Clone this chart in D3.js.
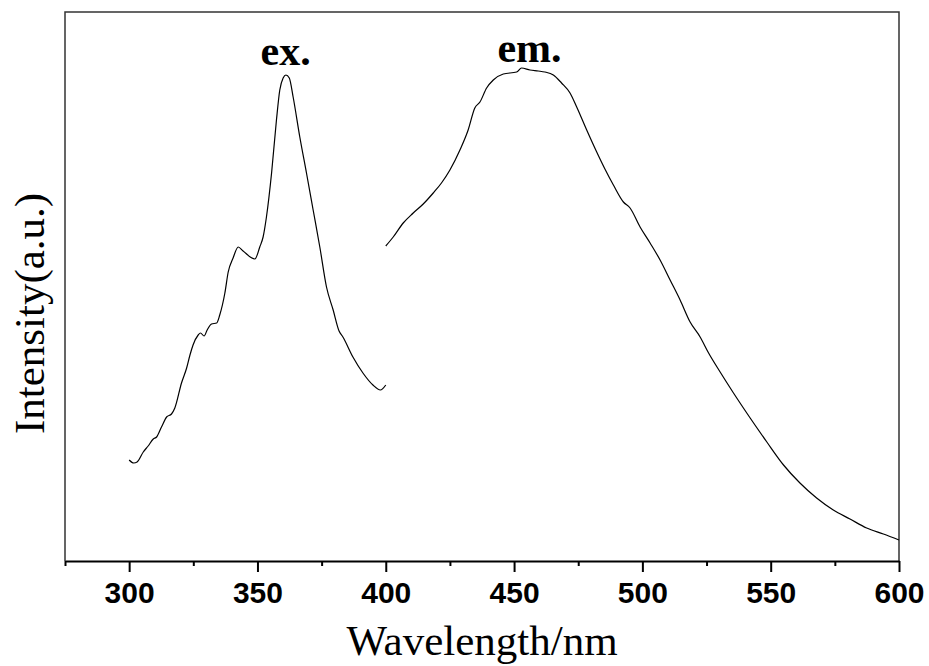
<!DOCTYPE html>
<html>
<head>
<meta charset="utf-8">
<script src="https://cdn.jsdelivr.net/npm/d3@7"></script>
<style>
  body { margin: 0; background: #fff; }
  .tick text { font-family: "Liberation Sans", Arial, sans-serif; font-weight: bold; font-size: 30px; }
</style>
</head>
<body>
<div class="chart"></div>
<script>
// excitation spectrum (nm, a.u.)
var exWave = [300.0, 301.8, 303.1, 305.5, 307.4, 309.4, 310.7, 312.6, 314.6, 316.5, 317.8, 320.4, 322.4, 323.7,
  324.9, 326.9, 327.8, 329.2, 330.4, 332.1, 334.1, 335.3, 337.3, 338.6, 340.5, 342.5, 344.4, 349.0, 350.9,
  352.2, 353.5, 355.5, 357.4, 358.7, 360.0, 361.1, 362.4, 363.9, 366.5, 369.1, 371.7, 374.3, 376.9, 379.5,
  381.8, 383.3, 387.2, 391.1, 395.0, 397.9, 400.0];
var exInt = [101, 98, 99, 109, 115, 122, 124, 134, 144, 147, 153, 178, 193, 206,
  216, 226, 228, 225, 231, 237, 238, 246, 268, 289, 303, 314, 310, 302, 314,
  324, 344, 388, 441, 471, 483, 486, 483, 464, 424, 388, 351, 314, 274, 251,
  230, 224, 204, 188, 176, 171, 176];

// emission spectrum (nm, a.u.)
var emWave = [400.0, 402.9, 406.8, 410.7, 414.6, 418.5, 421.7, 425.0, 428.9, 432.1, 434.7, 436.7, 439.3, 441.9,
  445.8, 451.0, 452.9, 456.2, 459.4, 462.0, 465.3, 468.5, 471.8, 474.4, 478.3, 482.2, 485.4, 488.7, 492.6,
  495.2, 499.1, 503.0, 506.9, 510.8, 514.7, 518.6, 522.5, 525.8, 530.3, 535.5, 542.0, 548.5, 555.0, 561.4,
  567.9, 574.4, 580.9, 587.4, 593.9, 600.0];
var emInt = [315, 324, 338, 348, 357, 368, 378, 391, 411, 431, 453, 459, 473, 481,
  487, 489, 493, 491, 490, 489, 486, 478, 468, 454, 431, 409, 392, 376, 359,
  353, 334, 318, 301, 281, 261, 239, 224, 208, 189, 168, 143, 119, 96, 78,
  63, 51, 42, 33, 27, 21];

var majorTicks = [300, 350, 400, 450, 500, 550, 600];
var minorTicks = [275, 325, 375, 425, 475, 525, 575];

var svgWidth = 929;
var svgHeight = 666;
var margin = { top: 12, right: 30, bottom: 105, left: 65 };
var width = svgWidth - margin.left - margin.right;
var height = svgHeight - margin.top - margin.bottom;

var svg = d3.select(".chart")
  .append("svg")
  .attr("width", svgWidth)
  .attr("height", svgHeight);

var chart = svg.append("g")
  .attr("transform", "translate(" + margin.left + "," + margin.top + ")");

var x = d3.scaleLinear().domain([275, 600]).range([0, width]);
var y = d3.scaleLinear().domain([0, 549]).range([height, 0]);

// frame (top, left, right)
chart.append("path")
  .attr("d", "M0," + height + "V0H" + width + "V" + height)
  .attr("fill", "none")
  .attr("stroke", "#333")
  .attr("stroke-width", 1.5);

// minor ticks
chart.append("g")
  .attr("transform", "translate(0," + height + ")")
  .call(d3.axisBottom(x).tickValues(minorTicks).tickSize(5).tickFormat("").tickSizeOuter(0))
  .call(function(g) { g.select(".domain").remove(); })
  .selectAll("line").attr("stroke-width", 2);

// major ticks + labels
var xAxis = chart.append("g")
  .attr("transform", "translate(0," + height + ")")
  .call(d3.axisBottom(x).tickValues(majorTicks).tickSize(11).tickPadding(10).tickSizeOuter(0));
xAxis.select(".domain").attr("stroke-width", 2);
xAxis.selectAll(".tick line").attr("stroke-width", 2);
xAxis.selectAll(".tick text").attr("fill", "#000");

var line = d3.line()
  .x(function(d) { return x(d[0]); })
  .y(function(d) { return y(d[1]); })
  .curve(d3.curveMonotoneX);

chart.append("path")
  .datum(d3.zip(exWave, exInt))
  .attr("d", line)
  .attr("fill", "none")
  .attr("stroke", "#000")
  .attr("stroke-width", 1.2);

chart.append("path")
  .datum(d3.zip(emWave, emInt))
  .attr("d", line)
  .attr("fill", "none")
  .attr("stroke", "#000")
  .attr("stroke-width", 1.2);

// peak labels
chart.append("text")
  .attr("x", x(361))
  .attr("y", 53)
  .attr("text-anchor", "middle")
  .style("font-family", "'Liberation Serif', 'Times New Roman', serif")
  .style("font-weight", "bold")
  .style("font-size", "42px")
  .text("ex.");

chart.append("text")
  .attr("x", x(456))
  .attr("y", 50)
  .attr("text-anchor", "middle")
  .style("font-family", "'Liberation Serif', 'Times New Roman', serif")
  .style("font-weight", "bold")
  .style("font-size", "42px")
  .text("em.");

// axis titles
svg.append("text")
  .attr("x", margin.left + width / 2)
  .attr("y", 655)
  .attr("text-anchor", "middle")
  .style("font-family", "'Liberation Serif', 'Times New Roman', serif")
  .style("font-size", "43px")
  .text("Wavelength/nm");

svg.append("text")
  .attr("transform", "translate(44," + (margin.top + height / 2 + 27) + ") rotate(-90)")
  .attr("text-anchor", "middle")
  .style("font-family", "'Liberation Serif', 'Times New Roman', serif")
  .style("font-size", "43px")
  .text("Intensity(a.u.)");
</script>
</body>
</html>
